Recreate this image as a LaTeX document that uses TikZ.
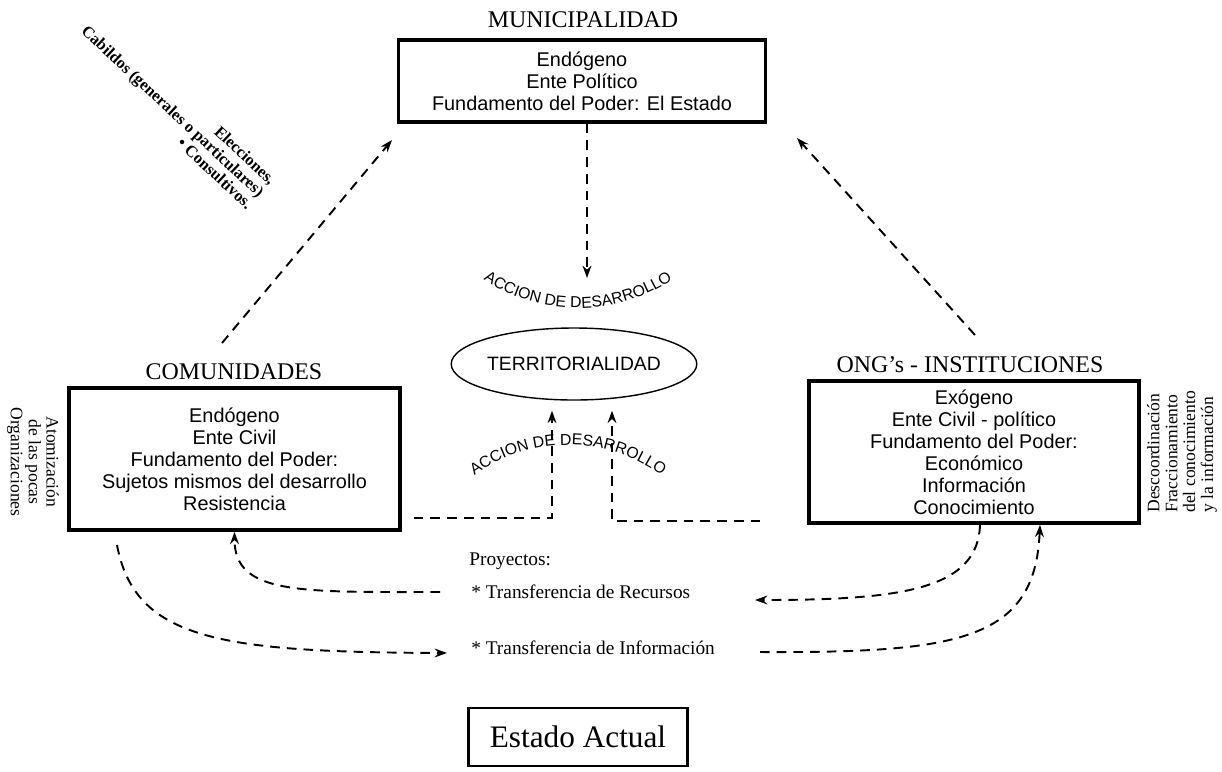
\documentclass[tikz,border=0pt]{standalone}
\usepackage{fontspec}
\setmainfont{Liberation Serif}
\setsansfont{Liberation Sans}
\usetikzlibrary{arrows.meta,shapes.geometric,decorations.text,calc}

\begin{document}
\begin{tikzpicture}[x=0.2mm,y=0.2mm,
  every node/.style={inner sep=0pt},
  actor/.style={draw,line width=2pt,align=center,
                minimum width=66.2mm,minimum height=28.4mm,
                font=\sffamily\fontsize{11.3}{12.5}\selectfont},
  ttl/.style={font=\fontsize{13.6}{15}\selectfont},
  sidetxt/.style={align=center,font=\fontsize{10}{10.2}\selectfont},
  proj/.style={anchor=west,font=\fontsize{11}{12}\selectfont},
  dline/.style={line width=1.1pt,dash pattern=on 5.5pt off 4pt},
  arr/.style={-{Stealth[length=7pt,width=5pt]}}
]
\useasboundingbox (0,0) rectangle (1222,-771);
% Top: Municipalidad
\node[ttl] (Mt) at (583,-20) {MUNICIPALIDAD};
\node[actor,minimum width=73.4mm,minimum height=16.4mm] (M) at (582,-81)
  {Endógeno\\Ente Político\\Fundamento del Poder: El Estado};
\node[rotate=-43,align=right,font=\bfseries\fontsize{9.3}{9.6}\selectfont] (Cb) at (173,-111)
  {Elecciones,\\Cabildos (generales o particulares)\\• Consultivos.};
% Left: Comunidades
\node[ttl] (Ct) at (234,-372) {COMUNIDADES};
\node[actor] (C) at (234.5,-459)
  {Endógeno\\Ente Civil\\Fundamento del Poder:\\Sujetos mismos del desarrollo\\Resistencia};
\node[sidetxt,rotate=-90] (Sa) at (33,-462) {Atomización\\de las pocas\\Organizaciones};
% Right: ONG's
\node[ttl] (Ot) at (970,-365) {ONG's - INSTITUCIONES};
\node[actor,minimum width=66mm] (O) at (974,-452)
  {Exógeno\\Ente Civil - político\\Fundamento del Poder:\\Económico\\Información\\Conocimiento};
\node[sidetxt,rotate=90,align=left,anchor=west] (Sd) at (1182,-513)
  {Descoordinación\\Fraccionamiento\\del conocimiento\\y la información};
% Centre: Territorialidad
\node[ellipse,draw,line width=0.8pt,minimum width=46.2mm,minimum height=14.4mm,
      font=\sffamily\fontsize{11}{12}\selectfont] (T) at (574,-364) {TERRITORIALIDAD};
\path[decorate,decoration={text along path,text align=center,
      text={|\sffamily\fontsize{9}{9}\selectfont|ACCION DE DESARROLLO}}]
  (578,-136) ++(232:3.44cm) arc (232:308:3.44cm);
\path[decorate,decoration={text along path,text align=center,
      text={|\sffamily\fontsize{9}{9}\selectfont|ACCION DE DESARROLLO}}]
  (568,-604) ++(131:3.18cm) arc (131:49:3.18cm);
% Bottom: Proyectos
\node[proj] (P) at (469,-561) {Proyectos:};
\node[proj] (P1) at (471,-592) {* Transferencia de Recursos};
\node[proj] (P2) at (471,-648) {* Transferencia de Información};
\node[draw,line width=1.6pt,minimum width=43.8mm,minimum height=11.6mm,
      font=\fontsize{17.8}{20}\selectfont] (E) at (578,-737) {Estado Actual};
% Connectors
\coordinate (cT) at (222,-343);
\coordinate (mL) at (392,-140);
\draw[dline,arr] (cT) -- (mL);
\coordinate (oT) at (975,-335);
\coordinate (mR) at (797,-138);
\draw[dline,arr] (oT) -- (mR);
\coordinate (tD) at (587,-278);
\draw[dline,arr] (M.south -| tD) -- (tD);
\coordinate (jL) at (552,-518);
\draw[dline,arr,shorten <=2.4mm,shorten >=2mm] (C.east |- jL) -- (jL) -- (jL |- T.south);
\coordinate (jR) at (612,-521);
\draw[dline,arr,shorten <=9.4mm,shorten >=2mm] (O.west |- jR) -- (jR) -- (jR |- T.south);
% Proyectos connectors
\coordinate (rA) at (440,-592);
\draw[dline,arr] (rA) .. controls (300,-592) and (234.5,-595) .. (C.south);
\coordinate (cS) at (117,-545);
\coordinate (iA) at (447,-653);
\draw[dline,arr] (cS) .. controls (135,-640) and (220,-652) .. (iA);
\coordinate (oS) at (980,0);
\coordinate (rB) at (755,-600);
\draw[dline,arr] (O.south -| oS) .. controls (978,-590) and (900,-600) .. (rB);
\coordinate (iB) at (760,-652);
\coordinate (oE) at (1040,0);
\draw[dline,arr] (iB) .. controls (960,-653) and (1035,-640) .. (O.south -| oE);
\end{tikzpicture}
\end{document}
